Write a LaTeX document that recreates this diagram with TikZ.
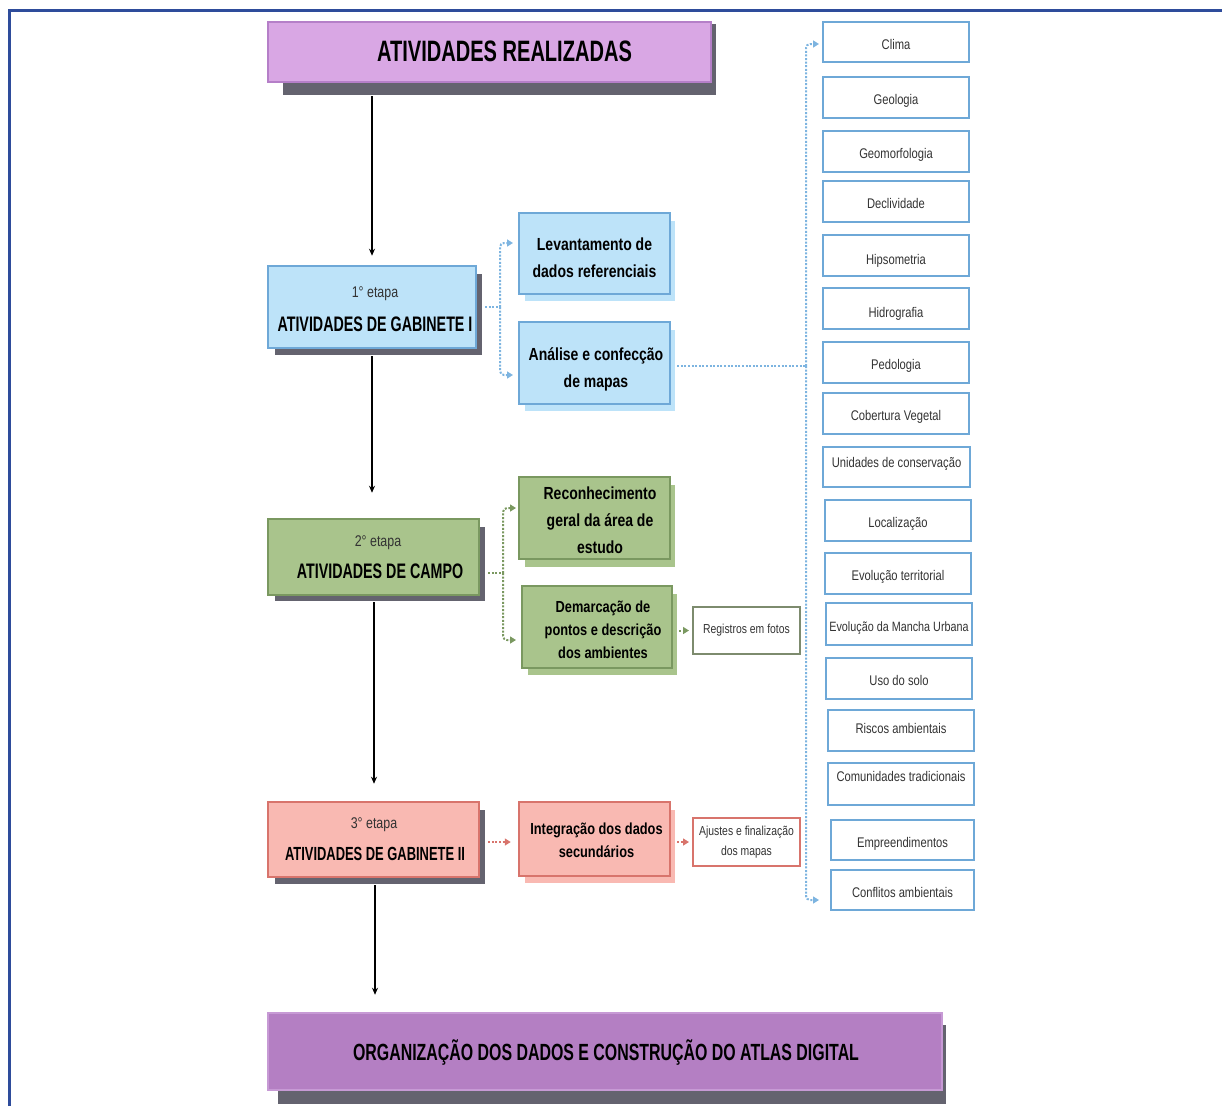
\documentclass[tikz,border=0pt]{standalone}
\usepackage{fontspec}
\setmainfont{Liberation Sans}
\newfontfamily\capsf{Liberation Sans}[FakeStretch=0.68]
\newfontfamily\txtf{Liberation Sans}[FakeStretch=0.8]
\usetikzlibrary{arrows.meta,backgrounds,calc}
\definecolor{frameblue}{HTML}{2E4C9B}
\definecolor{shadowgray}{HTML}{64636F}
\definecolor{titlefill}{HTML}{D9A7E4}
\definecolor{titleborder}{HTML}{B57FC8}
\definecolor{bluefill}{HTML}{BDE3F9}
\definecolor{blueborder}{HTML}{6EA8D7}
\definecolor{bluedotc}{HTML}{7DB4E0}
\definecolor{greenfill}{HTML}{A9C48C}
\definecolor{greenborder}{HTML}{7A9860}
\definecolor{regborder}{HTML}{7D8B6E}
\definecolor{pinkfill}{HTML}{F9B9B2}
\definecolor{pinkborder}{HTML}{D8746C}
\definecolor{finalfill}{HTML}{B47FC3}
\definecolor{finalborder}{HTML}{C79AD5}
\definecolor{txtgray}{HTML}{333333}
\tikzset{
  box/.style={rectangle, line width=2.5pt, inner sep=0pt},
  lbox/.style={rectangle, draw=blueborder, line width=2.5pt, fill=white,
    minimum width=146pt, minimum height=40pt, inner sep=1pt,
    text height=16pt, text depth=2pt,
    font=\txtf\fontsize{14}{16}\selectfont, text=txtgray},
  sbold/.style={font=\txtf\bfseries\fontsize{17.5}{27}\selectfont, align=center, text=black, inner sep=0pt},
  sboldsm/.style={font=\txtf\bfseries\fontsize{16}{23}\selectfont, align=center, text=black, inner sep=0pt},
  wbox/.style={rectangle, fill=white, line width=2pt, inner sep=0pt, align=center,
    font=\txtf\fontsize{13}{20}\selectfont, text=txtgray},
  etapa/.style={font=\txtf\fontsize{15.5}{18}\selectfont, text=txtgray, anchor=base},
  capslab/.style={font=\capsf\bfseries\fontsize{21}{25}\selectfont, anchor=base},
  blk/.style={line width=1.6pt, -{Stealth[length=7pt,width=6pt]}},
  dotl/.style={line width=2pt, dash pattern=on 2pt off 1.6pt, rounded corners=4pt},
  tipa/.style={-{Triangle[length=6pt,width=7pt]}},
}
\begin{document}
\begin{tikzpicture}[x=1pt,y=-1pt]
\useasboundingbox (0,0) rectangle (1222,1106);
% frame
\draw[frameblue, line width=3pt] (9,1106) -- (9,10) -- (1222,10);

% ---------- main column ----------
\node[box, draw=titleborder, fill=titlefill, minimum width=443pt, minimum height=60pt] (t) at (489.5,52) {};
\node[font=\capsf\bfseries\fontsize{29.5}{32}\selectfont, anchor=base] (tt) at (504.5,61) {ATIVIDADES REALIZADAS};

\node[box, draw=blueborder, fill=bluefill, minimum width=208pt, minimum height=82pt] (s1) at (372,307) {};
\node[etapa] (s1a) at (375,297) {1° etapa};
\node[capslab] (s1b) at (375,331) {ATIVIDADES DE GABINETE I};

\node[box, draw=greenborder, fill=greenfill, minimum width=211pt, minimum height=76pt] (s2) at (373.5,557) {};
\node[etapa] (s2a) at (378,546) {2° etapa};
\node[capslab] (s2b) at (380,578) {ATIVIDADES DE CAMPO};

\node[box, draw=pinkborder, fill=pinkfill, minimum width=211pt, minimum height=75pt] (s3) at (373.5,839.5) {};
\node[etapa] (s3a) at (374,828) {3° etapa};
\node[capslab, font=\capsf\bfseries\fontsize{19}{22}\selectfont] (s3b) at (375,860) {ATIVIDADES DE GABINETE II};

\node[box, draw=finalborder, fill=finalfill, minimum width=674pt, minimum height=77pt] (f) at (605,1051.5) {};
\node[font=\capsf\bfseries\fontsize{23.4}{26}\selectfont, anchor=base] (ft) at (606,1060) {ORGANIZAÇÃO DOS DADOS E CONSTRUÇÃO DO ATLAS DIGITAL};

% ---------- sub boxes ----------
\node[box, draw=blueborder, fill=bluefill, minimum width=151pt, minimum height=81pt] (lev) at (594.5,253.5) {};
\node[sbold] (levt) at (594.5,257.5) {Levantamento de\\dados referenciais};
\node[box, draw=blueborder, fill=bluefill, minimum width=151pt, minimum height=82pt] (ana) at (594.5,363) {};
\node[sbold] (anat) at (596,369.5) {Análise e confecção\\de mapas};
\node[box, draw=greenborder, fill=greenfill, minimum width=151pt, minimum height=82pt] (rec) at (594.5,518) {};
\node[sbold] (rect) at (600,520.5) {Reconhecimento\\geral da área de\\estudo};
\node[box, draw=greenborder, fill=greenfill, minimum width=150pt, minimum height=82pt] (dem) at (597,627) {};
\node[sboldsm] (demt) at (603,629.5) {Demarcação de\\pontos e descrição\\dos ambientes};
\node[box, draw=pinkborder, fill=pinkfill, minimum width=151pt, minimum height=74pt] (int) at (594.5,839) {};
\node[sboldsm] (intt) at (596.5,840.5) {Integração dos dados\\secundários};

\node[wbox, draw=regborder, minimum width=107pt, minimum height=47pt] (reg) at (746.5,630.5) {Registros em fotos};
\node[wbox, draw=pinkborder, minimum width=107pt, minimum height=48pt] (aj) at (746.5,842) {Ajustes e finalização\\dos mapas};

% ---------- list ----------
\node[lbox] (c1) at (896,42) {Clima};
\node[lbox, minimum height=41pt] (c2) at (896,97.5) {Geologia};
\node[lbox, minimum height=41pt] (c3) at (896,151.5) {Geomorfologia};
\node[lbox, minimum height=41pt] (c4) at (896,201.5) {Declividade};
\node[lbox, minimum height=41pt] (c5) at (896,255.5) {\raisebox{-2pt}{Hipsometria}};
\node[lbox, minimum height=41pt] (c6) at (896,308.5) {\raisebox{-2pt}{Hidrografia}};
\node[lbox, minimum height=41pt] (c7) at (896,362.5) {Pedologia};
\node[lbox, minimum height=41pt] (c8) at (896,413.5) {Cobertura Vegetal};
\node[lbox, minimum width=147pt] (c9) at (896.5,467) {\raisebox{7pt}{Unidades de conservação}};
\node[lbox, minimum height=41pt] (c10) at (898,520.5) {Localização};
\node[lbox, minimum height=41pt] (c11) at (898,573.5) {Evolução territorial};
\node[lbox, minimum height=42pt, font=\txtf\fontsize{13.5}{16}\selectfont] (c12) at (899,624) {Evolução da Mancha Urbana};
\node[lbox, minimum height=41pt] (c13) at (899,678.5) {Uso do solo};
\node[lbox, minimum height=41pt] (c14) at (901,730.5) {\raisebox{4pt}{Riscos ambientais}};
\node[lbox, minimum height=42pt] (c15) at (901,784) {\raisebox{10pt}{Comunidades tradicionais}};
\node[lbox, minimum width=143pt] (c16) at (902.5,840) {Empreendimentos};
\node[lbox, minimum width=143pt] (c17) at (902.5,890) {Conflitos ambientais};

% ---------- shadows ----------
\begin{pgfonlayer}{background}
\fill[shadowgray] (283,24) rectangle (716,95);
\fill[shadowgray] (275,274) rectangle (482,355);
\fill[shadowgray] (275,527) rectangle (485,601);
\fill[shadowgray] (275,810) rectangle (485,884);
\fill[shadowgray] (278,1025) rectangle (946,1104);
\fill[bluefill] (525,221) rectangle (675,301);
\fill[bluefill] (525,330) rectangle (675,411);
\fill[greenfill] (525,485) rectangle (675,567);
\fill[greenfill] (528,594) rectangle (677,675);
\fill[pinkfill] (525,810) rectangle (675,883);
\end{pgfonlayer}

% ---------- black arrows ----------
\draw[blk] ([yshift=-13pt]s1.north |- t.south) -- ([yshift=9pt]s1.north);
\draw[blk] ([yshift=-7pt]s1.south) -- ([yshift=25pt]s1.south |- s2.north);
\draw[blk] ([xshift=0.5pt,yshift=-6pt]s2.south) -- ([xshift=0.5pt,yshift=17pt]s2.south |- s3.north);
\draw[blk] ([xshift=1.5pt,yshift=-7pt]s3.south) -- ([xshift=1.5pt,yshift=17pt]s3.south |- f.north);

% ---------- dotted connectors ----------
\coordinate (j1) at (500,307);
\coordinate (levin) at (513,243);
\coordinate (anain) at (513,375);
\draw[dotl, draw=bluedotc] ([xshift=8pt]s1.east) -- (j1);
\draw[dotl, draw=bluedotc, tipa, bluedotc] (j1) |- (levin);
\draw[dotl, draw=bluedotc, tipa, bluedotc] (j1) |- (anain);

\coordinate (j2) at (806,366);
\coordinate (c1in) at (819,44);
\coordinate (c17in) at (819,900);
\draw[dotl, draw=bluedotc] ([xshift=6pt]ana.east |- j2) -- (j2);
\draw[dotl, draw=bluedotc, tipa, bluedotc] (j2) |- (c1in);
\draw[dotl, draw=bluedotc, tipa, bluedotc] (j2) |- (c17in);

\coordinate (j3) at (503,573);
\coordinate (recin) at (516,508);
\coordinate (demin) at (516,640);
\draw[dotl, draw=greenborder] ([xshift=8pt]s2.east |- j3) -- (j3);
\draw[dotl, draw=greenborder, tipa, greenborder] (j3) |- (recin);
\draw[dotl, draw=greenborder, tipa, greenborder] (j3) |- (demin);
\draw[dotl, draw=greenborder, tipa, greenborder, shorten >=3pt] ([xshift=6pt]dem.east |- reg.west) -- (reg.west);

\draw[dotl, draw=pinkborder, tipa, pinkborder, shorten >=7pt] ([xshift=8pt]s3.east |- 0,842) -- (int.west |- 0,842);
\draw[dotl, draw=pinkborder, tipa, pinkborder, shorten >=3pt] ([xshift=6pt]int.east |- aj.west) -- (aj.west);
\end{tikzpicture}
\end{document}
